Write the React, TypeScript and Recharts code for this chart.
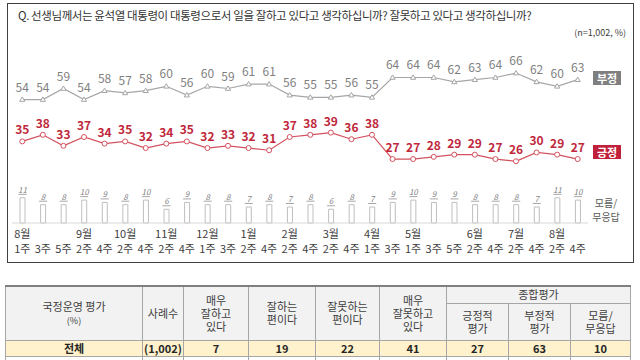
import { Bar, ComposedChart, LabelList, Line, XAxis, YAxis } from "recharts";

const months = ["8월", "", "", "9월", "", "10월", "", "11월", "", "12월", "", "1월", "", "2월", "", "3월", "", "4월", "", "5월", "", "", "6월", "", "7월", "", "8월", ""];
const weeks = ["1주", "3주", "5주", "2주", "4주", "2주", "4주", "2주", "4주", "1주", "3주", "2주", "4주", "2주", "4주", "2주", "4주", "1주", "3주", "1주", "3주", "5주", "2주", "4주", "2주", "4주", "2주", "4주"];
const negative = [54, 54, 59, 54, 58, 57, 58, 60, 56, 60, 59, 61, 61, 56, 55, 55, 56, 55, 64, 64, 64, 62, 63, 64, 66, 62, 60, 63];
const positive = [35, 38, 33, 37, 34, 35, 32, 34, 35, 32, 33, 32, 31, 37, 38, 39, 36, 38, 27, 27, 28, 29, 29, 27, 26, 30, 29, 27];
const unsure = [11, 8, 8, 10, 9, 8, 10, 6, 9, 8, 8, 7, 8, 7, 8, 6, 8, 7, 9, 10, 9, 9, 8, 8, 8, 7, 11, 10];

const tableHead = ["매우\n잘하고\n있다", "잘하는\n편이다", "잘못하는\n편이다", "매우\n잘못하고\n있다"];
const summaryHead = ["긍정적\n평가", "부정적\n평가", "모름/\n무응답"];
const totalRow = ["(1,002)", "7", "19", "22", "41", "27", "63", "10"];

const data = weeks.map((w, i) => ({ idx: i, week: w, neg: negative[i], pos: positive[i], dk: unsure[i] }));

const FONT = "'Noto Sans CJK KR', 'Noto Sans', sans-serif";
const GREY = "#a6a6a6";
const RED = "#d4515f";

function WeekTick({ x, y, payload }: any) {
  const i = payload.value;
  return (
    <g fontFamily={FONT} fontSize={11} fill="#404040">
      {months[i] ? <text x={x} y={y + 15} textAnchor="middle">{months[i]}</text> : null}
      <text x={x} y={y + 30} textAnchor="middle">{weeks[i]}</text>
    </g>
  );
}

function TriangleDot({ cx, cy }: any) {
  return <path d={`M${cx},${cy - 2.6} L${cx + 2.6},${cy + 1.8} L${cx - 2.6},${cy + 1.8} Z`} fill="#fff" stroke={GREY} strokeWidth={1} />;
}

function BarValue({ x, y, width, value }: any) {
  const cx = x + width / 2;
  return (
    <g>
      <text x={cx} y={y - 5} textAnchor="middle" fontFamily={FONT} fontSize={8} fontStyle="italic" fill="#7f7f7f">{value}</text>
      <line x1={cx - 4} x2={cx + 4} y1={y - 3.5} y2={y - 3.5} stroke="#7f7f7f" strokeWidth={0.7} />
    </g>
  );
}

const cell: any = { border: "1px solid #a6a6a6", textAlign: "center", padding: 0, whiteSpace: "pre-line", lineHeight: "13px", color: "#404040", overflow: "hidden" };

export default function App() {
  return (
    <div style={{ position: "absolute", left: 0, top: 0, width: 640, height: 360, overflow: "hidden", background: "#fff", fontFamily: FONT }}>
      <div style={{ position: "absolute", left: 7, top: 3, width: 627, height: 260, border: "1.5px solid #3f3f3f", boxSizing: "border-box" }} />
      <div style={{ position: "absolute", left: 18, top: 7, fontSize: 11.5, letterSpacing: -0.4, color: "#333", whiteSpace: "nowrap", lineHeight: "16px" }}>
        Q. 선생님께서는 윤석열 대통령이 대통령으로서 일을 잘하고 있다고 생각하십니까? 잘못하고 있다고 생각하십니까?
      </div>
      <div style={{ position: "absolute", right: 14, top: 27, fontSize: 9, color: "#404040", lineHeight: "12px" }}>(n=1,002, %)</div>

      <div style={{ position: "absolute", left: 0, top: 0 }}>
        <ComposedChart width={640} height={265} data={data} margin={{ top: 40, right: 52, bottom: 0, left: 12 }}>
          <XAxis dataKey="idx" height={42} tick={<WeekTick />} tickLine={false} tickSize={0} tickMargin={0} axisLine={{ stroke: "#d9d9d9" }} interval={0} />
          <YAxis yAxisId="line" hide domain={[-2, 81]} />
          <YAxis yAxisId="bar" hide domain={[0, 80]} />
          <Bar yAxisId="bar" dataKey="dk" barSize={5} fill="#fff" stroke="#bfbfbf" strokeWidth={1} isAnimationActive={false}>
            <LabelList dataKey="dk" content={<BarValue />} />
          </Bar>
          <Line yAxisId="line" dataKey="neg" stroke={GREY} strokeWidth={1.2} dot={<TriangleDot />} isAnimationActive={false}>
            <LabelList dataKey="neg" position="top" offset={8} fontSize={12} fill="#7f7f7f" fontFamily={FONT} />
          </Line>
          <Line yAxisId="line" dataKey="pos" stroke={RED} strokeWidth={1.2} dot={{ r: 2.5, fill: "#fff", stroke: RED, strokeWidth: 1 }} isAnimationActive={false}>
            <LabelList dataKey="pos" position="top" offset={7} fontSize={12} fontWeight="bold" fill="#c0283c" fontFamily={FONT} />
          </Line>
        </ComposedChart>
      </div>

      <div style={{ position: "absolute", left: 593, top: 71, width: 28, height: 14, background: "#7f7f7f", color: "#fff", fontSize: 11, fontWeight: "bold", lineHeight: "14px", textAlign: "center" }}>부정</div>
      <div style={{ position: "absolute", left: 593, top: 145, width: 28, height: 14, background: "#c0203a", color: "#fff", fontSize: 11, fontWeight: "bold", lineHeight: "14px", textAlign: "center" }}>긍정</div>
      <div style={{ position: "absolute", left: 586, top: 196, width: 40, fontSize: 10, color: "#595959", lineHeight: "14px", textAlign: "center" }}>모름/<br />무응답</div>

      <table style={{ position: "absolute", left: 5, top: 285, borderCollapse: "collapse", tableLayout: "fixed", fontSize: 11, width: 625 }}>
        <colgroup>
          {[137, 41, 65, 67, 64, 67, 62, 62, 60].map((w, i) => <col key={i} style={{ width: w }} />)}
        </colgroup>
        <tbody>
          <tr style={{ height: 17, background: "#f2f2f2" }}>
            <td rowSpan={2} style={{ ...cell, borderTop: "2px solid #7f7f7f" }}>국정운영 평가{"\n"}<span style={{ fontSize: 9 }}>(%)</span></td>
            <td rowSpan={2} style={{ ...cell, borderTop: "2px solid #7f7f7f" }}>사례수</td>
            {tableHead.map((h) => <td key={h} rowSpan={2} style={{ ...cell, borderTop: "2px solid #7f7f7f" }}>{h}</td>)}
            <td colSpan={3} style={{ ...cell, borderTop: "2px solid #7f7f7f", lineHeight: "15px" }}>종합평가</td>
          </tr>
          <tr style={{ height: 37, background: "#f2f2f2" }}>
            {summaryHead.map((h) => <td key={h} style={cell}>{h}</td>)}
          </tr>
          <tr style={{ height: 16, background: "#fff2cc" }}>
            <td style={{ ...cell, fontWeight: "bold", color: "#262626" }}>전체</td>
            {totalRow.map((v, i) => <td key={i} style={{ ...cell, fontWeight: "bold", color: "#262626" }}>{v}</td>)}
          </tr>
          <tr style={{ height: 16 }}>
            <td style={cell}></td>
            {totalRow.map((v, i) => <td key={i} style={cell}></td>)}
          </tr>
        </tbody>
      </table>
    </div>
  );
}
